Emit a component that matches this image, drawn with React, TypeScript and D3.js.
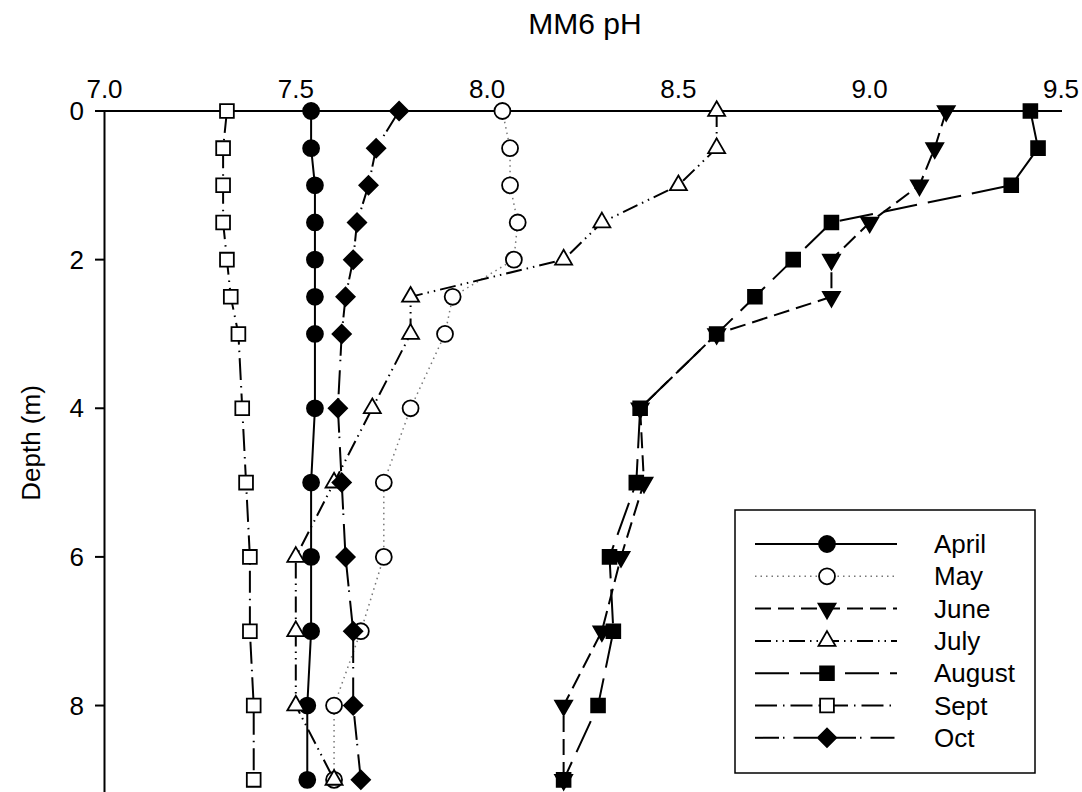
import React from "react";
import * as d3 from "d3";

const depths = [0, 0.5, 1, 1.5, 2, 2.5, 3, 4, 5, 6, 7, 8, 9];
const april = [7.54, 7.54, 7.55, 7.55, 7.55, 7.55, 7.55, 7.55, 7.54, 7.54, 7.54, 7.53, 7.53];
const may = [8.04, 8.06, 8.06, 8.08, 8.07, 7.91, 7.89, 7.8, 7.73, 7.73, 7.67, 7.6, 7.6];
const june = [9.2, 9.17, 9.13, 9.0, 8.9, 8.9, 8.6, 8.4, 8.41, 8.35, 8.3, 8.2, 8.2];
const july = [8.6, 8.6, 8.5, 8.3, 8.2, 7.8, 7.8, 7.7, 7.6, 7.5, 7.5, 7.5, 7.6];
const august = [9.42, 9.44, 9.37, 8.9, 8.8, 8.7, 8.6, 8.4, 8.39, 8.32, 8.33, 8.29, 8.2];
const sept = [7.32, 7.31, 7.31, 7.31, 7.32, 7.33, 7.35, 7.36, 7.37, 7.38, 7.38, 7.39, 7.39];
const oct = [7.77, 7.71, 7.69, 7.66, 7.65, 7.63, 7.62, 7.61, 7.62, 7.63, 7.65, 7.65, 7.67];

const xTicks = [7.0, 7.5, 8.0, 8.5, 9.0, 9.5];
const yTicks = [0, 2, 4, 6, 8];

type Series = { name: string; values: number[]; marker: string; filled: boolean; dash: string; width: number; color: string };

const series: Series[] = [
  { name: "April", values: april, marker: "circle", filled: true, dash: "", width: 2, color: "#000" },
  { name: "May", values: may, marker: "circle", filled: false, dash: "1.5 4", width: 1.5, color: "#777" },
  { name: "June", values: june, marker: "tdown", filled: true, dash: "16 7", width: 2, color: "#000" },
  { name: "July", values: july, marker: "tup", filled: false, dash: "16 5 1.5 5 1.5 5", width: 2, color: "#000" },
  { name: "August", values: august, marker: "square", filled: true, dash: "34 11", width: 2, color: "#000" },
  { name: "Sept", values: sept, marker: "square", filled: false, dash: "22 6 1.5 6", width: 2, color: "#000" },
  { name: "Oct", values: oct, marker: "diamond", filled: true, dash: "24 4 1.5 9", width: 2, color: "#000" },
];

const FONT = "'Liberation Sans', Arial, Helvetica, sans-serif";

function markerPath(kind: string): { d: string; rot: number } {
  if (kind === "circle") return { d: d3.symbol(d3.symbolCircle, 200)() as string, rot: 0 };
  if (kind === "square") return { d: d3.symbol(d3.symbolSquare, 190)() as string, rot: 0 };
  if (kind === "diamond") return { d: d3.symbol(d3.symbolSquare, 170)() as string, rot: 45 };
  if (kind === "tup") return { d: d3.symbol(d3.symbolTriangle, 125)() as string, rot: 0 };
  return { d: d3.symbol(d3.symbolTriangle, 125)() as string, rot: 180 };
}

function Marker({ kind, filled, x, y }: { kind: string; filled: boolean; x: number; y: number }) {
  const m = markerPath(kind);
  return (
    <path
      d={m.d}
      transform={`translate(${x},${y}) rotate(${m.rot})`}
      fill={filled ? "#000" : "#fff"}
      stroke="#000"
      strokeWidth={1.8}
    />
  );
}

export default function App() {
  const W = 1082;
  const H = 792;
  const x = d3.scaleLinear().domain([7.0, 9.5]).range([104.5, 1061]);
  const y = d3.scaleLinear().domain([0, 9.15]).range([111, 791]);

  const line = d3
    .line<[number, number]>()
    .x((d) => x(d[0]))
    .y((d) => y(d[1]));

  const legendX0 = 755;
  const legendX1 = 897;
  const legendMX = 827;
  const legendTX = 934;
  const legendY0 = 544;
  const legendDY = 32.3;

  return (
    <svg width={W} height={H} style={{ position: "absolute", left: 0, top: 0, background: "#fff" }} fontFamily={FONT}>
      <rect x={0} y={0} width={W} height={H} fill="#fff" />
      <text x={585} y={34} fontSize={30} textAnchor="middle">MM6 pH</text>

      {/* axes */}
      <line x1={104.5} x2={1062} y1={111} y2={111} stroke="#000" strokeWidth={2} />
      <line x1={104.5} x2={104.5} y1={110} y2={792} stroke="#000" strokeWidth={2} />
      {xTicks.map((t) => (
        <text key={t} x={x(t)} y={98} fontSize={26} textAnchor="middle">{t.toFixed(1)}</text>
      ))}
      {yTicks.map((t) => (
        <g key={t}>
          <line x1={95} x2={104.5} y1={y(t)} y2={y(t)} stroke="#000" strokeWidth={2} />
          <text x={84} y={y(t) + 9} fontSize={26} textAnchor="end">{t}</text>
        </g>
      ))}
      <text transform={`translate(40,443) rotate(-90)`} fontSize={26} textAnchor="middle">Depth (m)</text>

      {/* lines */}
      {series.map((s) => (
        <path
          key={s.name}
          d={line(s.values.map((v, i) => [v, depths[i]] as [number, number])) as string}
          fill="none"
          stroke={s.color}
          strokeWidth={s.width}
          strokeDasharray={s.dash || undefined}
        />
      ))}
      {/* markers */}
      {series.map((s) => (
        <g key={s.name + "m"}>
          {s.values.map((v, i) => (
            <Marker key={i} kind={s.marker} filled={s.filled} x={x(v)} y={y(depths[i])} />
          ))}
        </g>
      ))}

      {/* legend */}
      <rect x={735} y={510} width={300} height={263} fill="#fff" stroke="#000" strokeWidth={1.5} />
      {series.map((s, i) => {
        const ly = legendY0 + i * legendDY;
        return (
          <g key={s.name + "l"}>
            <line x1={legendX0} x2={legendX1} y1={ly} y2={ly} stroke={s.color} strokeWidth={s.width} strokeDasharray={s.dash || undefined} />
            <Marker kind={s.marker} filled={s.filled} x={legendMX} y={ly} />
            <text x={legendTX} y={ly + 9} fontSize={26}>{s.name}</text>
          </g>
        );
      })}
    </svg>
  );
}
